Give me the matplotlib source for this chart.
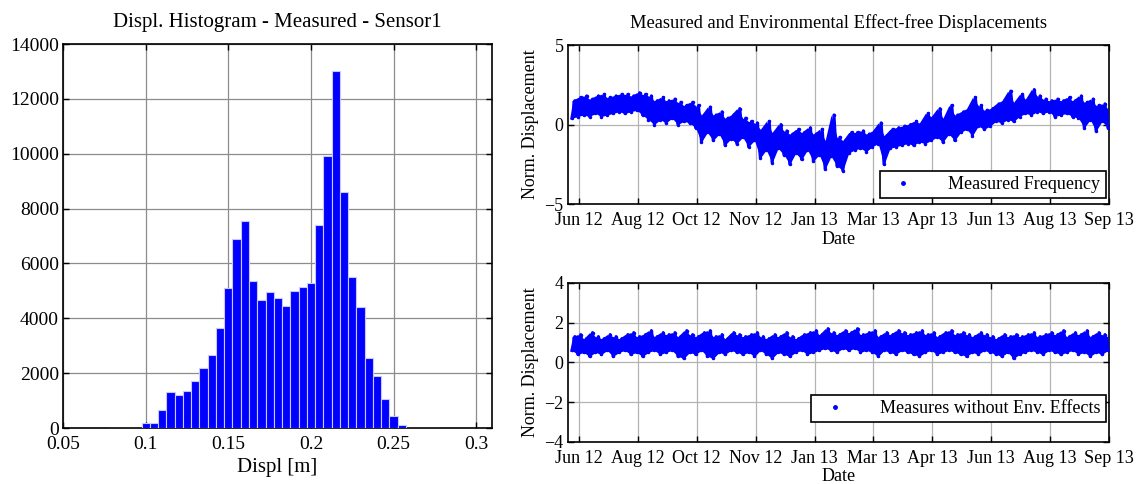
import numpy as np
import matplotlib
matplotlib.use('Agg')
import matplotlib.pyplot as plt
import matplotlib.dates as mdates
from matplotlib.lines import Line2D

plt.rcParams['font.family'] = ['Liberation Serif', 'DejaVu Serif']

# histogram (bin centres / counts)
bin_centres = [0.08, 0.085, 0.09, 0.095, 0.1, 0.105, 0.11, 0.115, 0.12, 0.125,
               0.13, 0.135, 0.14, 0.145, 0.15, 0.155, 0.16, 0.165, 0.17, 0.175,
               0.18, 0.185, 0.19, 0.195, 0.2, 0.205, 0.21, 0.215, 0.22, 0.225,
               0.23, 0.235, 0.24, 0.245, 0.25, 0.255, 0.26, 0.265, 0.27, 0.275]
counts = [3, 3, 3, 5, 200, 200, 650, 1300, 1200, 1350,
          1700, 2200, 2650, 3650, 5100, 6900, 7550, 5350, 4650, 4950,
          4750, 4450, 5000, 5150, 5300, 7400, 9900, 13000, 8600, 5500,
          4400, 2550, 1900, 1050, 450, 100, 5, 3, 3, 3]

# time series: days after 22 Jun 2012, envelope lows/highs
start_date = np.datetime64('2012-06-22')
day_offsets = list(range(0, 456, 5))
meas_lo = [0.4, 0.5, 0.6, 0.5, 0.7, 0.5, 0.6, 0.7, 0.8, 0.7, 0.8, 0.9,
           0.6, 0.3, 0.0, 0.3, 0.1, 0.4, 0.0, 0.2, 0.1, -0.2, -1.1, -0.5,
           -1.0, -0.6, -1.3, -0.9, -1.2, -0.8, -1.4, -1.0, -2.1, -1.6, -2.4, -1.5,
           -1.9, -2.5, -1.8, -2.2, -1.6, -2.3, -1.9, -2.8, -2.0, -2.6, -2.9, -1.8,
           -1.6, -1.5, -1.7, -1.4, -1.2, -2.5, -1.5, -1.4, -1.3, -1.2, -1.3, -1.1,
           -1.2, -1.0, -0.8, -1.1, -0.6, -1.0, -0.5, -0.3, -0.7, -0.1, -0.3, -0.1,
           0.2, 0.1, 0.3, 0.2, 0.5, 0.7, 0.6, 0.8, 0.7, 0.8, 0.5, 0.6,
           0.7, 0.5, 0.4, -0.2, 0.3, -0.4, 0.2, -0.2]
meas_hi = [1.5, 1.7, 1.8, 1.6, 1.8, 1.9, 1.7, 1.8, 1.9, 1.9, 1.8, 2.0,
           1.9, 1.8, 1.5, 1.7, 1.5, 1.6, 1.4, 1.2, 1.4, 1.2, 0.6, 1.1,
           0.6, 0.8, 0.4, 0.6, 1.0, 0.4, 0.2, 0.1, -0.3, 0.2, -0.5, 0.0,
           -0.4, -0.6, -0.3, -0.5, -0.2, -0.6, -0.3, -1.0, 0.6, -0.8, -1.0, -0.5,
           -0.5, -0.4, -0.6, -0.4, 0.1, -0.7, -0.3, -0.2, -0.1, 0.0, 0.2, 0.1,
           0.7, 0.5, 1.0, 0.4, 1.2, 0.6, 0.8, 1.0, 1.7, 1.2, 0.9, 1.0,
           1.3, 1.5, 2.1, 1.4, 1.9, 1.6, 2.2, 1.8, 1.6, 1.5, 1.6, 1.5,
           1.7, 1.5, 1.8, 1.4, 1.6, 1.2, 1.3, 1.0]
free_lo = [0.6, 0.4, 0.5, 0.3, 0.5, 0.4, 0.6, 0.3, 0.5, 0.6, 0.4, 0.5,
           0.3, 0.5, 0.6, 0.4, 0.5, 0.6, 0.3, 0.2, 0.5, 0.4, 0.6, 0.3,
           0.2, 0.5, 0.4, 0.6, 0.5, 0.4, 0.5, 0.3, 0.6, 0.4, 0.2, 0.5,
           0.4, 0.3, 0.5, 0.6, 0.4, 0.5, 0.6, 0.7, 0.6, 0.5, 0.7, 0.6,
           0.7, 0.5, 0.6, 0.5, 0.3, 0.6, 0.5, 0.4, 0.6, 0.5, 0.4, 0.3,
           0.5, 0.6, 0.4, 0.5, 0.6, 0.5, 0.4, 0.3, 0.5, 0.4, 0.6, 0.5,
           0.4, 0.3, 0.5, 0.2, 0.4, 0.5, 0.6, 0.5, 0.4, 0.6, 0.5, 0.4,
           0.5, 0.6, 0.4, 0.5, 0.3, 0.5, 0.4, 0.6]
free_hi = [1.3, 1.4, 1.2, 1.5, 1.3, 1.2, 1.4, 1.3, 1.2, 1.4, 1.5, 1.3,
           1.4, 1.6, 1.3, 1.5, 1.4, 1.5, 1.3, 1.6, 1.4, 1.3, 1.5, 1.6,
           1.3, 1.4, 1.2, 1.5, 1.4, 1.3, 1.4, 1.5, 1.3, 1.2, 1.4, 1.3,
           1.5, 1.3, 1.2, 1.4, 1.5, 1.6, 1.4, 1.7, 1.5, 1.4, 1.6, 1.5,
           1.7, 1.4, 1.5, 1.6, 1.3, 1.5, 1.4, 1.6, 1.5, 1.4, 1.5, 1.6,
           1.4, 1.5, 1.3, 1.5, 1.6, 1.4, 1.5, 1.4, 1.3, 1.5, 1.4, 1.3,
           1.2, 1.4, 1.3, 1.4, 1.3, 1.4, 1.5, 1.3, 1.4, 1.5, 1.4, 1.6,
           1.3, 1.5, 1.4, 1.6, 1.3, 1.5, 1.4, 1.3]

# date ticks every 50 days from 28 Jun 2012
first_tick = np.datetime64('2012-06-28')
tick_step = 50
n_ticks = 10

BLUE = '#0000ff'


def draw_band(ax, lo, hi):
    base = mdates.date2num(start_date.astype(object))
    d = base + np.array(day_offsets, dtype=float)
    ax.fill_between(d, lo, hi, color=BLUE, linewidth=0, zorder=3)
    # ragged edges: alternate low / high samples half a step apart
    x = np.empty(2 * len(d))
    y = np.empty(2 * len(d))
    x[0::2] = d
    x[1::2] = d + 2.5
    y[0::2] = lo
    y[1::2] = hi
    ax.plot(x, y, color=BLUE, linewidth=2.2, marker='.', markersize=3,
            zorder=3)


def style(ax, gridcol, size):
    ax.grid(True, color=gridcol, linewidth=0.9, linestyle='-')
    ax.set_axisbelow(True)
    ax.tick_params(direction='in', top=True, right=True, length=4,
                   width=1, colors='black', labelsize=size, pad=6)
    for s in ax.spines.values():
        s.set_linewidth(1.2)


fig = plt.figure(figsize=(11.41, 4.84), dpi=100)

# ---- histogram
ax1 = fig.add_axes([0.0552, 0.1157, 0.376, 0.7933])
ax1.bar(bin_centres, counts, width=0.005, color=BLUE,
        edgecolor='#c8c8ff', linewidth=0.8, zorder=3)
ax1.set_xlim(0.05, 0.3095)
ax1.set_ylim(0, 14000)
ax1.set_xticks([0.05, 0.1, 0.15, 0.2, 0.25, 0.3])
ax1.set_xticklabels(['0.05', '0.1', '0.15', '0.2', '0.25', '0.3'])
ax1.set_yticks(range(0, 14001, 2000))
style(ax1, '#8c8c8c', 14)
ax1.tick_params(axis='y', pad=3)
ax1.set_title('Displ. Histogram - Measured - Sensor1', fontsize=15, pad=12)
ax1.set_xlabel('Displ [m]', fontsize=15, labelpad=3)

tick_dates = [first_tick + np.timedelta64(tick_step * k, 'D') for k in range(n_ticks)]
tick_nums = [mdates.date2num(t.astype(object)) for t in tick_dates]
tick_labels = [t.astype(object).strftime('%b %y') for t in tick_dates]
xlo = tick_nums[0] - 9.6
xhi = tick_nums[-1]

panels = [
    (meas_lo, meas_hi, 'Measured Frequency', (-5, 5), [-5, 0, 5],
     [0.4975, 0.5785, 0.4745, 0.3285], (0.994, 0.035)),
    (free_lo, free_hi, 'Measures without Env. Effects', (-4, 4),
     [-4, -2, 0, 2, 4], [0.4975, 0.0874, 0.4745, 0.3279], (0.994, 0.122)),
]

axes = []
for (lo, hi, lab, ylim, yt, pos, anchor) in panels:
    ax = fig.add_axes(pos)
    draw_band(ax, lo, hi)
    ax.set_xlim(xlo, xhi)
    ax.set_ylim(*ylim)
    ax.set_yticks(yt)
    ax.set_xticks(tick_nums)
    ax.set_xticklabels(tick_labels)
    style(ax, '#b4b4b4', 13)
    ax.tick_params(axis='y', pad=3)
    ax.set_ylabel('Norm. Displacement', fontsize=13, labelpad=4)
    ax.set_xlabel('Date', fontsize=13, labelpad=1)
    h = Line2D([], [], color=BLUE, marker='.', linestyle='none',
               markersize=5)
    leg = ax.legend([h], [lab], loc='lower right', bbox_to_anchor=anchor,
                    fontsize=13, fancybox=False, framealpha=1,
                    edgecolor='black', borderaxespad=0, handletextpad=1.5,
                    borderpad=0.3)
    leg.get_frame().set_linewidth(1.2)
    axes.append(ax)

axes[0].set_title('Measured and Environmental Effect-free Displacements',
                  fontsize=13.3, pad=12)

fig.savefig('out.png', dpi=100)
